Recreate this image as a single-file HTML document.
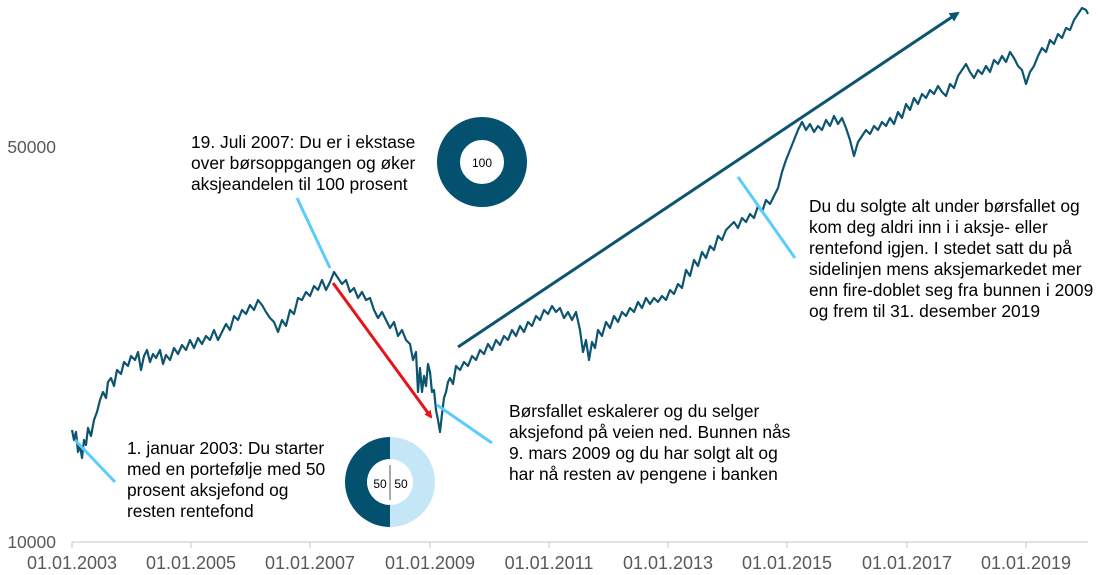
<!DOCTYPE html>
<html><head><meta charset="utf-8"><style>
body{margin:0;background:#fff}
svg{display:block;font-family:"Liberation Sans",Arial,sans-serif}
</style></head><body>
<svg width="1098" height="575" viewBox="0 0 1098 575" xmlns="http://www.w3.org/2000/svg">
<defs>
<marker id="ar" markerWidth="8" markerHeight="8" refX="6" refY="4" orient="auto" markerUnits="userSpaceOnUse"><path d="M0,0 L8,4 L0,8 z" fill="#e8121b"/></marker>
<marker id="ab" markerWidth="10" markerHeight="10" refX="8" refY="5" orient="auto" markerUnits="userSpaceOnUse"><path d="M0,0 L10,5 L0,10 z" fill="#0d5470"/></marker>
</defs>
<line x1="72" y1="542" x2="1088" y2="542" stroke="#d9d9d9" stroke-width="1.5"/>
<g stroke="#d9d9d9" stroke-width="1.5">
<line x1="72" y1="542" x2="72" y2="548"/><line x1="191" y1="542" x2="191" y2="548"/><line x1="310" y1="542" x2="310" y2="548"/><line x1="430" y1="542" x2="430" y2="548"/><line x1="549" y1="542" x2="549" y2="548"/><line x1="668" y1="542" x2="668" y2="548"/><line x1="787" y1="542" x2="787" y2="548"/><line x1="907" y1="542" x2="907" y2="548"/><line x1="1026" y1="542" x2="1026" y2="548"/>
</g>
<g font-size="18" fill="#595959" text-anchor="middle">
<text x="72" y="569">01.01.2003</text><text x="191" y="569">01.01.2005</text><text x="310" y="569">01.01.2007</text><text x="430" y="569">01.01.2009</text><text x="549" y="569">01.01.2011</text><text x="668" y="569">01.01.2013</text><text x="787" y="569">01.01.2015</text><text x="907" y="569">01.01.2017</text><text x="1026" y="569">01.01.2019</text>
</g>
<g font-size="17.5" fill="#595959" text-anchor="end">
<text x="56" y="548">10000</text><text x="56" y="153">50000</text>
</g>
<polyline fill="none" stroke="#0d5470" stroke-width="2.2" stroke-linejoin="round" points="72,430 74,440 76,432 78,452 80,445 82,458 84,440 86,445 88,428 91,436 94,420 97,412 100,400 103,392 106,398 108,382 111,378 114,386 117,370 121,374 124,362 128,366 131,356 135,360 138,352 141,370 144,356 147,350 150,362 153,354 156,358 160,350 163,364 166,355 170,360 174,348 178,354 182,345 186,350 190,340 194,348 198,338 202,344 206,336 210,340 214,330 218,340 222,332 226,324 230,330 234,316 238,320 242,310 246,314 250,305 254,310 258,300 262,305 266,312 270,318 274,322 278,332 282,320 286,326 290,310 294,314 298,298 302,300 306,292 310,296 314,286 318,290 322,280 326,290 330,282 334,272 338,278 342,284 346,280 350,292 354,288 358,298 362,292 366,300 370,298 374,310 378,318 382,312 386,320 390,328 394,322 398,336 402,330 406,340 410,344 413,360 416,352 418,392 420,368 422,392 424,376 426,386 428,364 430,372 432,392 434,390 436,410 438,420 440,432 442,414 444,398 446,392 448,382 450,378 453,384 456,366 460,370 464,362 468,366 472,356 476,360 480,350 484,354 488,344 492,350 496,340 500,345 504,336 508,340 512,330 516,336 520,326 524,332 528,322 532,326 536,316 540,320 544,310 548,314 552,306 556,312 560,308 564,318 568,312 572,320 576,312 580,330 583,352 586,340 589,360 592,342 595,348 598,330 602,336 606,322 610,328 614,316 618,322 622,312 626,316 630,308 634,312 638,302 642,308 646,298 650,304 654,298 658,302 662,296 666,300 670,290 674,294 678,284 682,288 686,270 690,276 694,260 698,266 702,252 706,258 710,246 714,250 718,236 722,240 726,230 730,226 734,222 738,228 742,218 746,222 750,214 754,218 758,206 762,212 766,200 770,204 774,196 778,188 782,172 786,160 790,150 794,140 798,130 802,122 806,130 810,124 814,132 818,126 822,130 826,120 830,126 834,116 838,124 842,118 846,128 850,140 854,156 858,142 862,136 866,130 870,134 874,126 878,130 882,122 886,126 890,118 894,124 898,112 902,118 906,104 910,110 914,98 918,104 922,94 926,98 930,90 934,94 938,86 942,92 946,96 950,84 954,88 958,76 962,70 966,64 970,72 974,78 978,70 982,74 986,66 990,72 994,60 998,64 1002,56 1006,62 1010,52 1014,58 1018,66 1022,70 1026,84 1030,72 1034,66 1038,56 1042,48 1046,52 1050,40 1054,44 1058,34 1062,38 1066,28 1070,30 1074,20 1078,14 1082,8 1086,10 1088,14"/>
<g stroke="#5ccbff" stroke-width="3">
<line x1="75" y1="440" x2="115" y2="482"/>
<line x1="297" y1="198" x2="330" y2="268"/>
<line x1="437" y1="405" x2="492" y2="443"/>
<line x1="738" y1="177" x2="795" y2="258"/>
</g>
<line x1="333" y1="283" x2="431" y2="417" stroke="#e8121b" stroke-width="3" marker-end="url(#ar)"/>
<line x1="458" y1="347" x2="958" y2="13" stroke="#0d5470" stroke-width="3" marker-end="url(#ab)"/>
<circle cx="482" cy="162" r="33.5" fill="none" stroke="#03506f" stroke-width="23"/>
<text x="482" y="167" font-size="12" text-anchor="middle" fill="#000">100</text>
<path d="M390,437 A45,45 0 0 0 390,527 L390,505 A23,23 0 0 1 390,459 Z" fill="#03506f"/>
<path d="M390,437 A45,45 0 0 1 390,527 L390,505 A23,23 0 0 0 390,459 Z" fill="#c5e6f7"/>
<line x1="390" y1="465" x2="390" y2="500" stroke="#555" stroke-width="1"/>
<text x="380" y="488" font-size="12" text-anchor="middle">50</text>
<text x="401" y="488" font-size="12" text-anchor="middle">50</text>
<g font-size="17.4" fill="#000">
<text x="127" y="454">1. januar 2003: Du starter</text>
<text x="127" y="475">med en portefølje med 50</text>
<text x="127" y="496">prosent aksjefond og</text>
<text x="127" y="517">resten rentefond</text>
<text x="191" y="148">19. Juli 2007: Du er i ekstase</text>
<text x="191" y="169">over børsoppgangen og øker</text>
<text x="191" y="190">aksjeandelen til 100 prosent</text>
<text x="509" y="417">Børsfallet eskalerer og du selger</text>
<text x="509" y="438">aksjefond på veien ned. Bunnen nås</text>
<text x="509" y="459">9. mars 2009 og du har solgt alt og</text>
<text x="509" y="480">har nå resten av pengene i banken</text>
<text x="809" y="212">Du du solgte alt under børsfallet og</text>
<text x="809" y="233">kom deg aldri inn i i aksje- eller</text>
<text x="809" y="254">rentefond igjen. I stedet satt du på</text>
<text x="809" y="275">sidelinjen mens aksjemarkedet mer</text>
<text x="809" y="296">enn fire-doblet seg fra bunnen i 2009</text>
<text x="809" y="317">og frem til 31. desember 2019</text>
</g>
</svg>
</body></html>
